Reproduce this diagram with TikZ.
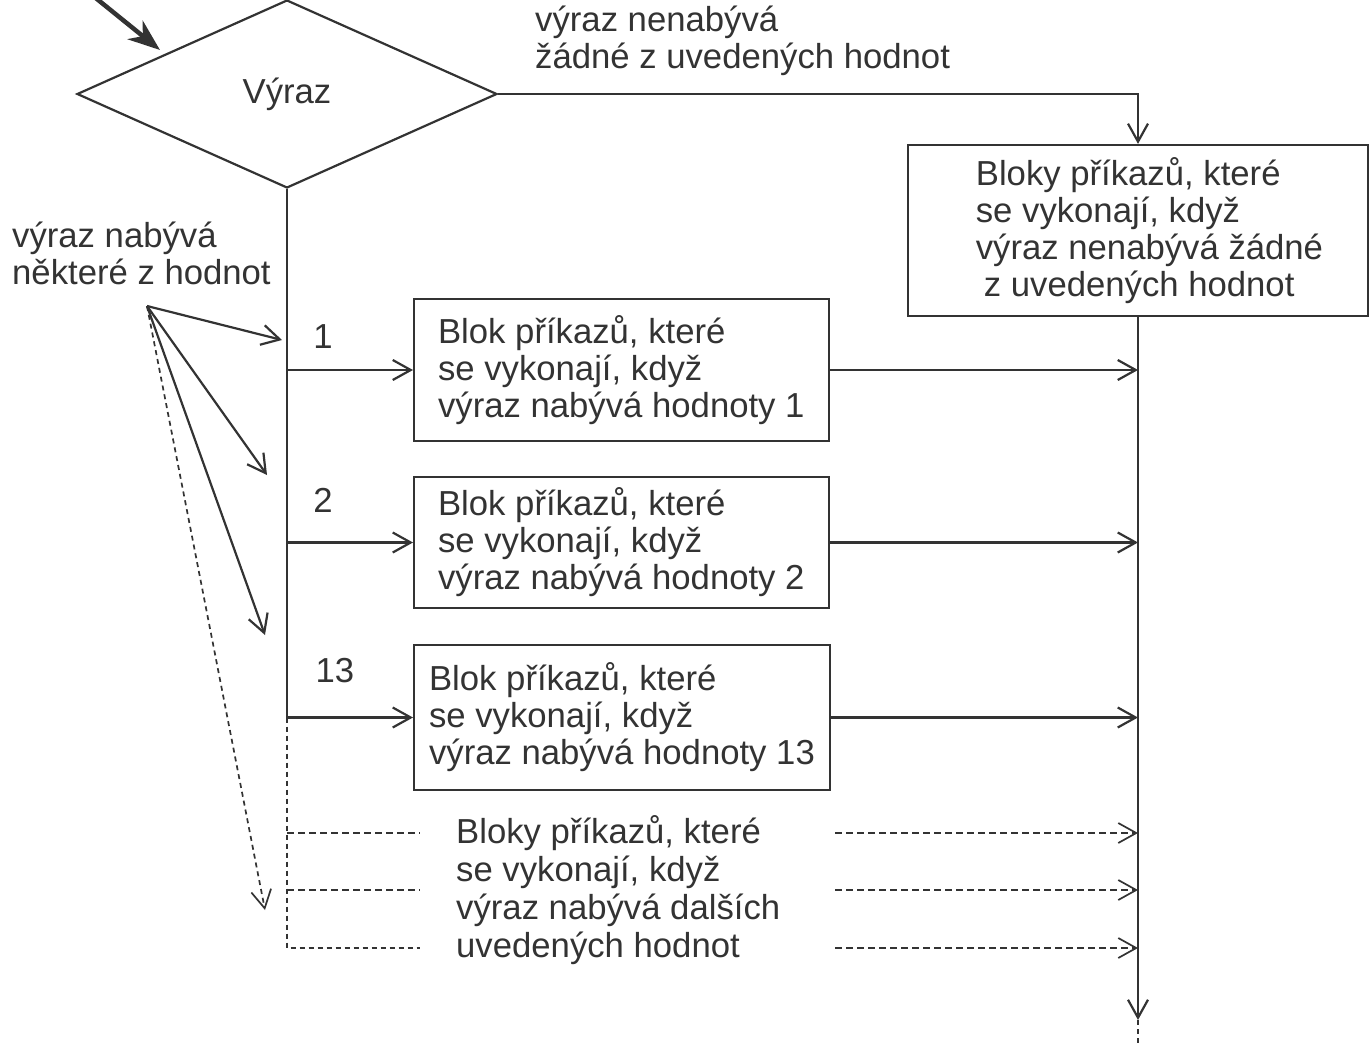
\documentclass[tikz,border=0pt]{standalone}
\usepackage{fontspec}
\setmainfont{Liberation Sans}
\usetikzlibrary{arrows.meta,shapes.geometric}
\definecolor{ink}{HTML}{333333}
\begin{document}
\begin{tikzpicture}[x=1pt,y=-1pt,
  every node/.style={font=\fontsize{34.7}{37}\selectfont, text=ink},
  line/.style={draw=ink, line width=2.2pt},
  tip/.style={-{Straight Barb[length=18pt,width=20pt]}},
  arr/.style={line, tip},
  dashln/.style={draw=ink, line width=1.7pt, dash pattern=on 7pt off 4pt},
  dotln/.style={draw=ink, line width=1.7pt, dash pattern=on 5pt off 4pt},
  block/.style={draw=ink, line width=2.2pt, align=left, anchor=west, inner ysep=0pt},
  lbl/.style={align=left, anchor=west, inner sep=0pt},
  num/.style={inner sep=0pt},
]
\useasboundingbox (0,0) rectangle (1369,1044);

% decision
\node[diamond, draw=ink, line width=2.2pt, minimum width=420pt, minimum height=188pt,
      inner sep=0pt] (dia) at (287,94) {Výraz};

% command blocks
\node[block, minimum height=142pt, inner xsep=24pt] (b1) at (413,370)
  {Blok příkazů, které\\se vykonají, když\\výraz nabývá hodnoty 1};
\node[block, minimum height=131pt, inner xsep=24pt] (b2) at (413,542.5)
  {Blok příkazů, které\\se vykonají, když\\výraz nabývá hodnoty 2};
\node[block, minimum height=145pt, inner xsep=15pt] (b3) at (413,717.5)
  {Blok příkazů, které\\se vykonají, když\\výraz nabývá hodnoty 13};
\node[block, anchor=center, minimum width=460pt, minimum height=171pt, inner xsep=45pt]
  (dflt) at (1138,230.5)
  {\hspace*{23pt}Bloky příkazů, které\\\hspace*{23pt}se vykonají, když\\
   \hspace*{23pt}výraz nenabývá žádné\\\hspace*{31pt}z uvedených hodnot};

% labels
\node[lbl] (nolbl) at (535,41) {výraz nenabývá\\žádné z uvedených hodnot};
\node[lbl] (yeslbl) at (12,253) {výraz nabývá\\některé z hodnot};
\node[num] (n1) at (323,337) {1};
\node[num] (n2) at (323,500) {2};
\node[num] (n13) at (335,671) {13};
\node[lbl, font=\fontsize{34.7}{38}\selectfont] (more) at (456,890)
  {Bloky příkazů, které\\se vykonají, když\\výraz nabývá dalších\\uvedených hodnot};

% helper points
\coordinate (entryA) at (92,-5);
\coordinate (entryB) at (160,50);
\coordinate (d1) at (0,833);
\coordinate (d2) at (0,890);
\coordinate (d3) at (0,948);
\coordinate (lend) at (420,0);
\coordinate (rst) at (835,0);
\coordinate (bot) at (0,1020);
\coordinate (botend) at (0,1046);
\coordinate (src) at (147,306);
\coordinate (t1) at (282,340);
\coordinate (t2) at (267,475);
\coordinate (t3) at (265,635);
\coordinate (t4) at (265,910);

% entry
\draw[draw=ink, line width=4.5pt, -{Stealth[length=32pt,width=24pt,inset=10pt]}] (entryA) -- (entryB);

% default branch
\draw[arr] (dia.east) -| (dflt.north);

% trunk and branches
\draw[line] (dia.south) -- (dia.south |- b3.west);
\draw[arr] (dia.south |- b1.west) -- (b1.west);
\draw[arr] (dia.south |- b2.west) -- (b2.west);
\draw[arr] (dia.south |- b3.west) -- (b3.west);
\draw[dotln] (dia.south |- b3.west) -- (dia.south |- d3) -- (lend |- d3);
\draw[dashln] (dia.south |- d1) -- (lend |- d1);
\draw[dashln] (dia.south |- d2) -- (lend |- d2);

% collecting line
\draw[arr] (dflt.south) -- (dflt.south |- bot);
\draw[dotln] (dflt.south |- bot) -- (dflt.south |- botend);
\draw[arr] (b1.east) -- (b1.east -| dflt.south);
\draw[arr] (b2.east) -- (b2.east -| dflt.south);
\draw[arr] (b3.east) -- (b3.east -| dflt.south);
\draw[dashln, tip] (rst |- d1) -- (dflt.south |- d1);
\draw[dashln, tip] (rst |- d2) -- (dflt.south |- d2);
\draw[dashln, tip] (rst |- d3) -- (dflt.south |- d3);

% annotation arrows
\draw[arr] (src) -- (t1);
\draw[arr] (src) -- (t2);
\draw[arr] (src) -- (t3);
\draw[dotln, tip] (src) -- (t4);
\end{tikzpicture}
\end{document}
